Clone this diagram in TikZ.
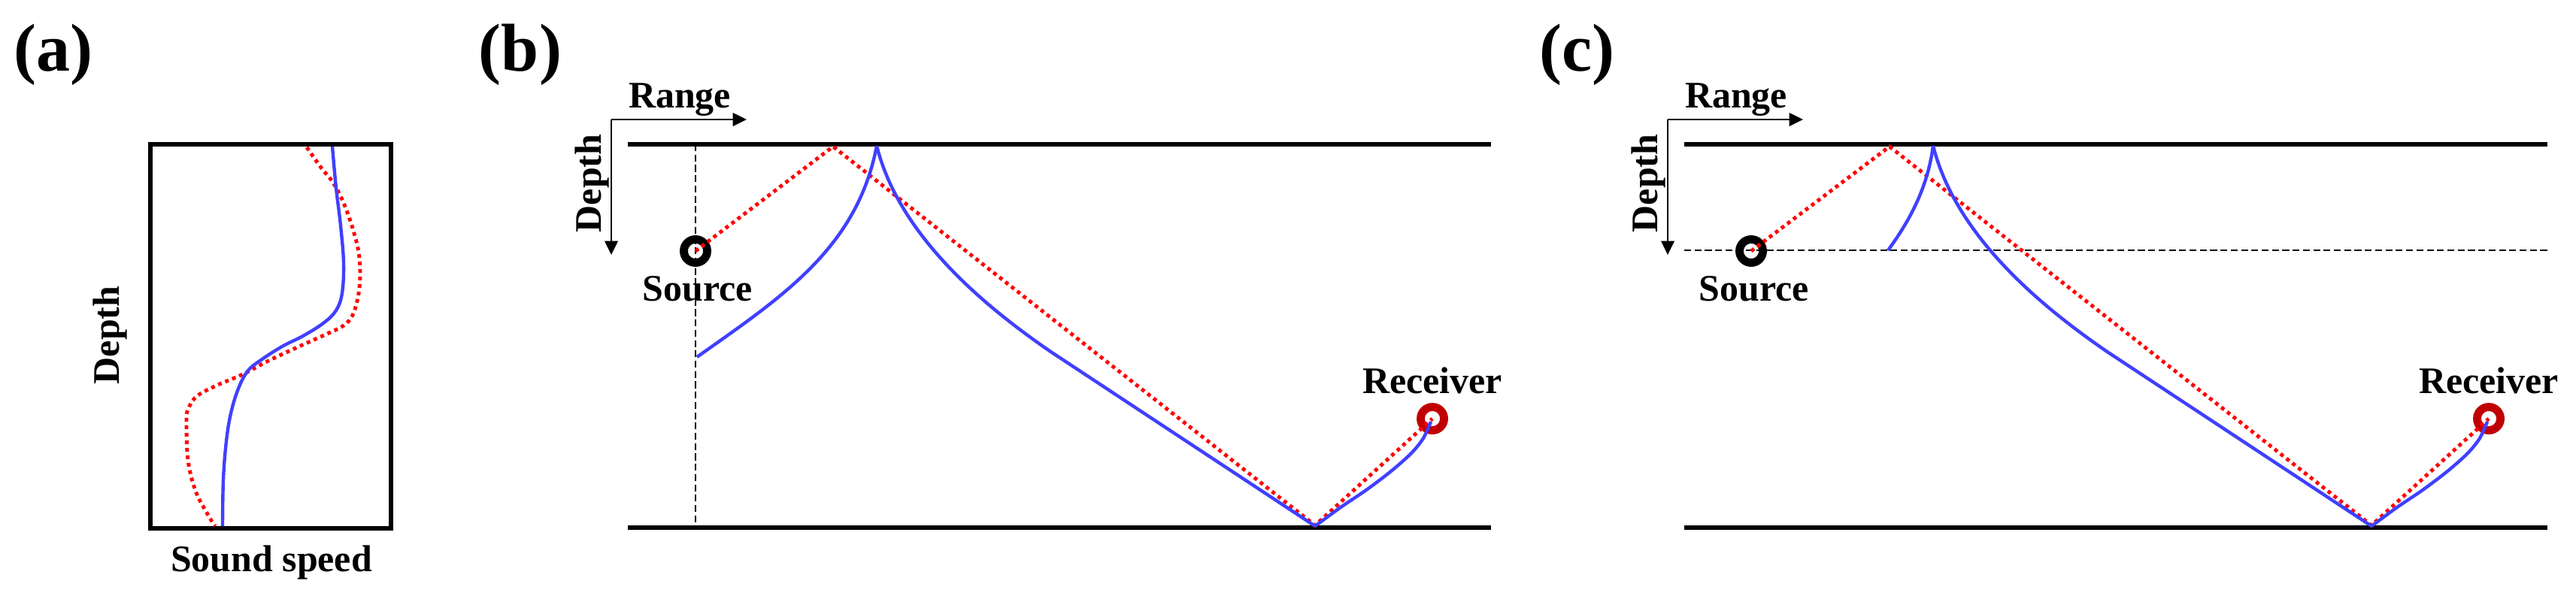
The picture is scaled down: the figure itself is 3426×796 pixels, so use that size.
\documentclass[tikz,border=0pt]{standalone}
\usepackage{fontspec}
\setmainfont{Liberation Serif}
\usepackage{tikz}
\usetikzlibrary{arrows.meta}

\definecolor{rcvred}{RGB}{192,0,0}
\definecolor{raybl}{RGB}{64,64,255}

\begin{document}
\begin{tikzpicture}[x=0.01cm, y=-0.01cm,
        label_style/.style={font=\fontsize{14.2}{16}\selectfont\bfseries, inner sep=0pt},
        panel_style/.style={font=\fontsize{25.6}{30}\selectfont\bfseries, inner sep=0pt, anchor=base},
        surface_style/.style={draw=black, line width=1.45pt},
        box_style/.style={draw=black, line width=1.5pt},
        axis_style/.style={draw=black, line width=0.45pt, -{Triangle[length=5.2pt,width=5pt]}},
        guide_style/.style={draw=black, line width=0.4pt, dash pattern=on 2.6pt off 1.3pt},
        src_style/.style={circle, draw=black, line width=3.1pt, minimum size=0.31cm, inner sep=0pt},
        rcv_style/.style={circle, draw=rcvred, line width=3.1pt, minimum size=0.31cm, inner sep=0pt},
        blue_ray_style/.style={draw=raybl, line width=1.25pt},
        red_ray_style/.style={draw=red, line width=1.4pt, dash pattern=on 1.4pt off 1.45pt}]

        \useasboundingbox (0,0) rectangle (3426,796);

        % (a) sound speed profiles
        \node [panel_style](lab_a) at (71,94) {(a)};
        \draw [box_style] (200,192) rectangle (520,703);
        \node [label_style,rotate=90](depth_a) at (146,446) {Depth};
        \node [label_style,anchor=base](speed_a) at (361,760) {Sound speed};

        \draw [red_ray_style] plot[smooth, tension=0.6] coordinates {(408,196) (427,223) (443,243) (457,270) (470,307) (478,343) (478,383) (470,417) (457,433) (433,445) (400,460) (357,480) (323,498) (290,512) (262,527) (250,545) (248,561) (250,612) (260,653) (276,684) (286,700)};

        \draw [blue_ray_style] plot[smooth, tension=0.6] coordinates {(442,195) (447,250) (453,300) (457,350) (455,390) (447,413) (430,430) (403,447) (377,460) (350,477) (330,493) (317,517) (307,550) (301,587) (297,638) (296,700)};

        % (b) ray paths
        \node [panel_style](lab_b) at (692,94) {(b)};

        \coordinate (org_b) at (813,159);
        \coordinate (rng_b) at (993,159);
        \coordinate (dep_b) at (813,339);
        \draw [axis_style] (org_b) -- (rng_b);
        \draw [axis_style] (org_b) -- (dep_b);
        \node [label_style,anchor=base](range_b) at (904,143) {Range};
        \node [label_style,rotate=90](depth_b) at (787,244) {Depth};

        \coordinate (sl_b) at (835,192);
        \coordinate (sr_b) at (1983,192);
        \coordinate (bl_b) at (835,702);
        \coordinate (br_b) at (1983,702);
        \draw [surface_style] (sl_b) -- (sr_b);
        \draw [surface_style] (bl_b) -- (br_b);

        \coordinate (gt_b) at (925,192);
        \coordinate (gb_b) at (925,702);
        \draw [guide_style] (gt_b) -- (gb_b);

        \node [src_style](src_b) at (925,334) {};
        \node [rcv_style](rcv_b) at (1905,557) {};
        \node [label_style,anchor=base](srclab_b) at (928,400) {Source};
        \node [label_style,anchor=base](rcvlab_b) at (1905,523) {Receiver};

        \coordinate (top_b) at (1108,195);
        \coordinate (bot_b) at (1749,699);
        \draw [red_ray_style] (src_b.center) -- (top_b) -- (bot_b) -- (rcv_b.center);

        \coordinate (cusp_b) at (1166,194);
        \coordinate (turn_b) at (1399,469);
        \coordinate (hit_b) at (1749,700);
        \draw [blue_ray_style] (927,475) .. controls (1040,395) and (1140,330) .. (cusp_b);
        \draw [blue_ray_style] (cusp_b) .. controls (1190,290) and (1270,381) .. (turn_b) -- (hit_b);
        \draw [blue_ray_style] plot[smooth, tension=0.5] coordinates {(1749,700) (1783,675) (1817,652) (1850,627) (1877,603) (1893,583) (1903,561)};

        % (c) ray paths
        \node [panel_style](lab_c) at (2097,94) {(c)};

        \coordinate (org_c) at (2218,159);
        \coordinate (rng_c) at (2398,159);
        \coordinate (dep_c) at (2218,339);
        \draw [axis_style] (org_c) -- (rng_c);
        \draw [axis_style] (org_c) -- (dep_c);
        \node [label_style,anchor=base](range_c) at (2309,143) {Range};
        \node [label_style,rotate=90](depth_c) at (2192,244) {Depth};

        \coordinate (sl_c) at (2240,192);
        \coordinate (sr_c) at (3388,192);
        \coordinate (bl_c) at (2240,702);
        \coordinate (br_c) at (3388,702);
        \draw [surface_style] (sl_c) -- (sr_c);
        \draw [surface_style] (bl_c) -- (br_c);

        \coordinate (gl_c) at (2240,333);
        \coordinate (gr_c) at (3388,333);
        \draw [guide_style] (gl_c) -- (gr_c);

        \node [src_style](src_c) at (2329,334) {};
        \node [rcv_style](rcv_c) at (3310,557) {};
        \node [label_style,anchor=base](srclab_c) at (2333,400) {Source};
        \node [label_style,anchor=base](rcvlab_c) at (3310,523) {Receiver};

        \coordinate (top_c) at (2513,195);
        \coordinate (bot_c) at (3154,699);
        \draw [red_ray_style] (src_c.center) -- (top_c) -- (bot_c) -- (rcv_c.center);

        \coordinate (cusp_c) at (2571,194);
        \coordinate (turn_c) at (2804,469);
        \coordinate (hit_c) at (3154,700);
        \draw [blue_ray_style] (2511,333) .. controls (2535,300) and (2563,255) .. (cusp_c);
        \draw [blue_ray_style] (cusp_c) .. controls (2595,290) and (2675,381) .. (turn_c) -- (hit_c);
        \draw [blue_ray_style] plot[smooth, tension=0.5] coordinates {(3154,700) (3188,675) (3222,652) (3255,627) (3282,603) (3298,583) (3308,561)};

        \end{tikzpicture}
\end{document}
